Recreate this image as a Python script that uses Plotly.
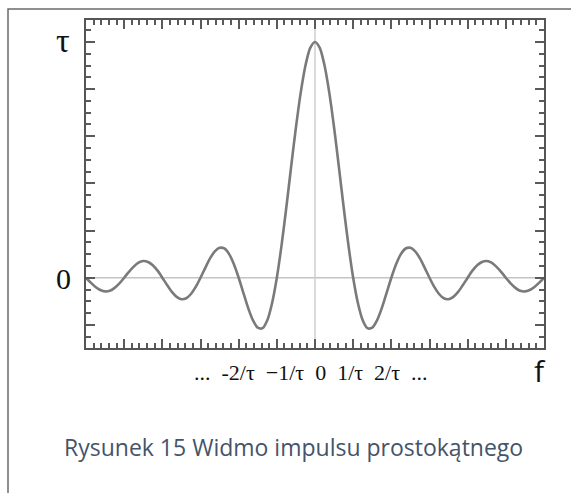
import plotly.graph_objects as go

# f in units of 1/tau, amplitude in units of tau
f_vals = [i * 0.125 for i in range(-48, 49)]
amp_right = [1.0, 0.975, 0.900, 0.784, 0.637, 0.471, 0.300, 0.139,
             0.0, -0.108, -0.180, -0.214, -0.212, -0.181, -0.129, -0.065,
             0.0, 0.057, 0.100, 0.124, 0.127, 0.112, 0.082, 0.042,
             0.0, -0.039, -0.069, -0.087, -0.091, -0.081, -0.060, -0.031,
             0.0, 0.030, 0.053, 0.067, 0.071, 0.064, 0.047, 0.025,
             0.0, -0.024, -0.043, -0.055, -0.058, -0.052, -0.039, -0.021, 0.0]
amp_vals = amp_right[:0:-1] + amp_right

x_label_text = "...  -2/τ  −1/τ  0  1/τ  2/τ  ..."
y_top_label = "τ"
y_zero_label = "0"
x_axis_name = "f"
caption = "Rysunek 15 Widmo impulsu prostokątnego"

W, H = 571, 493
L, R, T, B = 86, 27, 20, 145
pw, ph = W - L - R, H - T - B


def px(x):
    return (x - L) / pw


def py(y):
    return (H - B - y) / ph


fig = go.Figure()
fig.add_trace(go.Scatter(x=f_vals, y=amp_vals, mode="lines",
                         line=dict(color="#7a7a7a", width=2.6, shape="spline", smoothing=0.8),
                         hoverinfo="skip", showlegend=False))

axis_common = dict(showgrid=False, zeroline=False, showline=True, linecolor="#555555",
                   linewidth=2, mirror="allticks", ticks="inside", tickcolor="#5a5a5a",
                   tickwidth=1.6, ticklen=9, showticklabels=False)
fig.update_xaxes(range=[-6, 6], tickmode="linear", dtick=1, tick0=0,
                 minor=dict(tickmode="linear", tick0=0, dtick=0.2, ticks="inside", ticklen=5,
                            tickcolor="#5a5a5a", tickwidth=1.5),
                 **axis_common)
fig.update_yaxes(range=[-0.298, 1.093], tickmode="linear", dtick=0.2, tick0=0,
                 minor=dict(tickmode="linear", tick0=0, dtick=0.05, ticks="inside", ticklen=5,
                            tickcolor="#5a5a5a", tickwidth=1.5),
                 **axis_common)

# reference lines
fig.add_shape(type="line", xref="x", yref="y", x0=-6, x1=6, y0=0, y1=0,
              line=dict(color="#c4c4c4", width=1.5), layer="below")
fig.add_shape(type="line", xref="x", yref="y", x0=0, x1=0, y0=-0.298, y1=1.093,
              line=dict(color="#cfcfcf", width=1.5), layer="below")

# outer frame (only left & top visible)
fig.add_shape(type="rect", xref="paper", yref="paper",
              x0=px(8), x1=px(620), y0=py(9), y1=py(560),
              line=dict(color="#6b6b6b", width=1.5))

annos = [
    dict(text=y_top_label, x=px(63), y=py(40), font=dict(family="Liberation Serif", size=34, color="#111")),
    dict(text=y_zero_label, x=px(63), y=py(278), font=dict(family="Liberation Serif", size=30, color="#111")),
    dict(text=x_label_text, x=px(311), y=py(372), font=dict(family="Liberation Serif", size=22, color="#111")),
    dict(text=x_axis_name, x=px(540), y=py(370), font=dict(family="Open Sans", size=30, color="#111")),
    dict(text=caption, x=px(62), y=py(447), xanchor="left",
         font=dict(family="Open Sans", size=23, color="#44546a")),
]
for a in annos:
    a.setdefault("xanchor", "center")
    fig.add_annotation(xref="paper", yref="paper", yanchor="middle", showarrow=False, **a)

fig.update_layout(width=W, height=H, margin=dict(l=L, r=R, t=T, b=B),
                  paper_bgcolor="white", plot_bgcolor="white")

fig.write_html("out.html", config={"displayModeBar": False})
